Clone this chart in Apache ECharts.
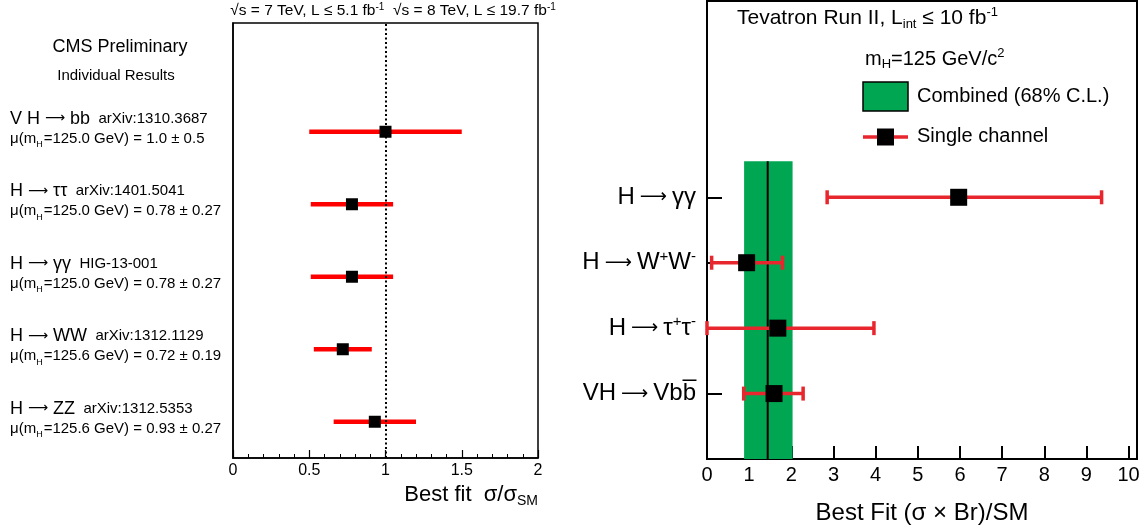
<!DOCTYPE html>
<html>
<head>
<meta charset="utf-8">
<script src="https://cdn.jsdelivr.net/npm/echarts@6/dist/echarts.min.js"></script>
<style>
html, body { margin: 0; padding: 0; background: #fff; }
#chart { width: 1145px; height: 531px; }
</style>
</head>
<body>
<div id="chart"></div>
<script>
const FONT = '"Liberation Sans", Arial, Helvetica, sans-serif';
const ARROW_FONT = '"DejaVu Sans", sans-serif';

// CMS individual results (top to bottom)
const cmsChannels = ['V H {arr|\u27f6} bb', 'H {arr|\u27f6} \u03c4\u03c4', 'H {arr|\u27f6} \u03b3\u03b3', 'H {arr|\u27f6} WW', 'H {arr|\u27f6} ZZ'];
const cmsRefs = ['arXiv:1310.3687', 'arXiv:1401.5041', 'HIG-13-001', 'arXiv:1312.1129', 'arXiv:1312.5353'];
const cmsMass = ['125.0', '125.0', '125.0', '125.6', '125.6'];
const cmsMu = [1.0, 0.78, 0.78, 0.72, 0.93];
const cmsErr = [0.5, 0.27, 0.27, 0.19, 0.27];
const cmsTicks = [0, 0.5, 1, 1.5, 2];

// Tevatron Run II single channels (top to bottom)
const tevLabels = [
  'H{arr|\u27f6}\u03b3\u03b3',
  'H{arr|\u27f6}W{sup|+}W{sup|-}',
  'H{arr|\u27f6}\u03c4{sup|+}\u03c4{sup|-}',
  'VH{arr|\u27f6}Vbb\u0305'
];
const tevMu = [5.97, 0.94, 1.68, 1.59];
const tevUp = [3.39, 0.85, 2.28, 0.69];
const tevDown = [3.12, 0.83, 1.68, 0.72];
const tevTicks = [0, 1, 2, 3, 4, 5, 6, 7, 8, 9, 10];

// Tevatron combination (68% C.L.)
const combMu = 1.44;
const combUp = 0.59;
const combDown = 0.56;

const fmt = v => (Number.isInteger(v) ? v.toFixed(1) : String(v));

// row positions on the value axes
const cmsRow = i => cmsChannels.length - 0.5 - i;
const tevRow = i => tevLabels.length - i;
const BAND_TOP = 4.55;

const cmsBars = cmsMu.map((m, i) => [m, cmsRow(i), m - cmsErr[i], m + cmsErr[i]]);
const cmsPoints = cmsMu.map((m, i) => [m, cmsRow(i)]);
const tevBars = tevMu.map((m, i) => [m, tevRow(i), m - tevDown[i], m + tevUp[i]]);
const tevPoints = tevMu.map((m, i) => [m, tevRow(i)]);

const chart = echarts.init(document.getElementById('chart'), null, { renderer: 'canvas' });

const option = {
  animation: false,
  backgroundColor: '#fff',
  textStyle: { fontFamily: FONT, color: '#000' },
  grid: [
    { left: 233, top: 23, width: 305, height: 435, show: true, borderColor: '#000', borderWidth: 1.5,
      backgroundColor: 'transparent', containLabel: false, outerBoundsMode: 'none' },
    { left: 707, top: 1, width: 430, height: 458, show: true, borderColor: '#000', borderWidth: 2,
      backgroundColor: 'transparent', containLabel: false, outerBoundsMode: 'none' }
  ],
  xAxis: [
    {
      gridIndex: 0, type: 'value', min: cmsTicks[0], max: cmsTicks[cmsTicks.length - 1], interval: 0.5,
      axisLine: { show: true, lineStyle: { color: '#000', width: 1.5 } },
      axisTick: { show: true, inside: true, length: 8, lineStyle: { color: '#000', width: 1.2 } },
      minorTick: { show: true, splitNumber: 5, length: 4, lineStyle: { color: '#000', width: 1 } },
      splitLine: { show: false },
      axisLabel: { fontSize: 16, color: '#000', fontFamily: FONT, margin: 5,
        formatter: v => String(v) },
      name: 'Best fit  \u03c3/\u03c3{sub|SM}',
      nameLocation: 'end', nameGap: 0,
      nameTextStyle: {
        fontSize: 22, color: '#000', fontFamily: FONT, align: 'right', verticalAlign: 'top',
        padding: [24, 0, 0, 0],
        rich: { sub: { fontSize: 14, fontFamily: FONT, color: '#000', padding: [12, 0, 0, 0] } }
      }
    },
    {
      gridIndex: 1, type: 'value', min: 0, max: 10.2,
      axisLine: { show: true, lineStyle: { color: '#000', width: 2 } },
      axisTick: { show: true, inside: true, length: 13, customValues: tevTicks, lineStyle: { color: '#000', width: 2 } },
      splitLine: { show: false },
      axisLabel: { fontSize: 20, color: '#000', fontFamily: FONT, margin: 6, customValues: tevTicks },
      name: 'Best Fit (\u03c3 \u00d7 Br)/SM',
      nameLocation: 'middle', nameGap: 42,
      nameTextStyle: { fontSize: 24, color: '#000', fontFamily: FONT }
    }
  ],
  yAxis: [
    {
      gridIndex: 0, type: 'value', min: 0, max: cmsChannels.length + 1,
      axisLine: { show: true, lineStyle: { color: '#000', width: 1.5 } },
      axisTick: { show: false },
      splitLine: { show: false },
      axisLabel: {
        customValues: cmsChannels.map((_, i) => cmsRow(i)),
        align: 'left', margin: 223, padding: [0, 0, 5, 0],
        formatter: v => {
          const i = Math.round(cmsChannels.length - 0.5 - v);
          if (i < 0 || i >= cmsChannels.length) return '';
          return '{ch|' + cmsChannels[i].replace(/\{arr\|(.)\}/, '}{arr|$1}{ch|') + '}{ref|  ' + cmsRefs[i] + '}\n' +
            '{mu|\u03bc(m}{sub|H}{mu|=' + cmsMass[i] + ' GeV) = ' + fmt(cmsMu[i]) + ' \u00b1 ' + fmt(cmsErr[i]) + '}';
        },
        rich: {
          ch: { fontSize: 18, fontFamily: FONT, color: '#000', lineHeight: 19 },
          arr: { fontSize: 14, fontFamily: ARROW_FONT, color: '#000', lineHeight: 19 },
          ref: { fontSize: 15, fontFamily: FONT, color: '#000', lineHeight: 19 },
          mu: { fontSize: 15, fontFamily: FONT, color: '#000', lineHeight: 17 },
          sub: { fontSize: 9, fontFamily: FONT, color: '#000', padding: [12, 1, 0, 0] }
        }
      }
    },
    {
      gridIndex: 1, type: 'value', min: 0, max: 7,
      axisLine: { show: true, lineStyle: { color: '#000', width: 2 } },
      axisTick: { show: true, inside: true, length: 15, customValues: tevLabels.map((_, i) => tevRow(i)),
        lineStyle: { color: '#000', width: 2 } },
      splitLine: { show: false },
      axisLabel: {
        customValues: tevLabels.map((_, i) => tevRow(i)),
        margin: 11, fontSize: 24, color: '#000', fontFamily: FONT,
        formatter: v => {
          const i = Math.round(tevLabels.length - v);
          return (i >= 0 && i < tevLabels.length) ? tevLabels[i] : '';
        },
        rich: {
          arr: { fontSize: 19, fontFamily: ARROW_FONT, color: '#000', padding: [0, 5, 0, 5] },
          sup: { fontSize: 15, fontFamily: FONT, color: '#000', padding: [0, 0, 12, 0] }
        }
      }
    }
  ],
  series: [
    {
      // CMS uncertainty bars
      type: 'custom', xAxisIndex: 0, yAxisIndex: 0, z: 2, silent: true,
      encode: { x: [0, 2, 3], y: 1 },
      data: cmsBars,
      renderItem: (params, api) => {
        const p0 = api.coord([api.value(2), api.value(1)]);
        const p1 = api.coord([api.value(3), api.value(1)]);
        return { type: 'line', shape: { x1: p0[0], y1: p0[1], x2: p1[0], y2: p1[1] },
          style: { stroke: '#ff0000', lineWidth: 4.5 } };
      }
    },
    {
      // CMS best-fit points and SM reference line
      type: 'scatter', xAxisIndex: 0, yAxisIndex: 0, z: 3, silent: true,
      data: cmsPoints, symbol: 'rect', symbolSize: 12,
      itemStyle: { color: '#000', opacity: 1 },
      markLine: {
        silent: true, symbol: ['none', 'none'], label: { show: false },
        lineStyle: { color: '#000', width: 2, type: [2, 2.5] },
        data: [{ xAxis: 1 }]
      }
    },
    {
      // Tevatron combined band with central value
      type: 'custom', xAxisIndex: 1, yAxisIndex: 1, z: 1, silent: true,
      encode: { x: [0, 1, 2] },
      data: [[combMu, combMu - combDown, combMu + combUp]],
      renderItem: (params, api) => {
        const lo = api.coord([api.value(1), 0]);
        const hi = api.coord([api.value(2), BAND_TOP]);
        const c0 = api.coord([api.value(0), 0]);
        const c1 = api.coord([api.value(0), BAND_TOP]);
        return {
          type: 'group',
          children: [
            { type: 'rect', shape: { x: lo[0], y: hi[1], width: hi[0] - lo[0], height: lo[1] - hi[1] },
              style: { fill: '#00a651' } },
            { type: 'line', shape: { x1: c0[0], y1: c0[1], x2: c1[0], y2: c1[1] },
              style: { stroke: '#000', lineWidth: 2 } }
          ]
        };
      }
    },
    {
      // Tevatron single-channel uncertainty bars with caps
      type: 'custom', xAxisIndex: 1, yAxisIndex: 1, z: 2, silent: true,
      encode: { x: [0, 2, 3], y: 1 },
      data: tevBars,
      renderItem: (params, api) => {
        const p0 = api.coord([api.value(2), api.value(1)]);
        const p1 = api.coord([api.value(3), api.value(1)]);
        const h = 7;
        const st = { stroke: '#e8262d', lineWidth: 3.5 };
        return {
          type: 'group',
          children: [
            { type: 'line', shape: { x1: p0[0], y1: p0[1], x2: p1[0], y2: p1[1] }, style: st },
            { type: 'line', shape: { x1: p0[0], y1: p0[1] - h, x2: p0[0], y2: p0[1] + h }, style: st },
            { type: 'line', shape: { x1: p1[0], y1: p1[1] - h, x2: p1[0], y2: p1[1] + h }, style: st }
          ]
        };
      }
    },
    {
      // Tevatron single-channel best fits
      type: 'scatter', xAxisIndex: 1, yAxisIndex: 1, z: 3, silent: true,
      data: tevPoints, symbol: 'rect', symbolSize: 17,
      itemStyle: { color: '#000', opacity: 1 }
    }
  ],
  graphic: [
    { type: 'text', x: 393, y: 11, silent: true,
      style: { text: '\u221as = 7 TeV, L \u2264 5.1 fb{sup|-1}  \u221as = 8 TeV, L \u2264 19.7 fb{sup|-1}',
        font: '15.5px ' + FONT, fill: '#000', align: 'center', verticalAlign: 'middle',
        textAlign: 'center', textVerticalAlign: 'middle',
        rich: { sup: { fontSize: 10, fontFamily: FONT, fill: '#000', padding: [0, 0, 8, 0] } } } },
    { type: 'text', x: 120, y: 47, silent: true,
      style: { text: 'CMS Preliminary', font: '18px ' + FONT, fill: '#000',
        align: 'center', verticalAlign: 'middle', textAlign: 'center', textVerticalAlign: 'middle' } },
    { type: 'text', x: 116, y: 76, silent: true,
      style: { text: 'Individual Results', font: '15px ' + FONT, fill: '#000',
        align: 'center', verticalAlign: 'middle', textAlign: 'center', textVerticalAlign: 'middle' } },
    { type: 'text', x: 737, y: 18, silent: true,
      style: { text: 'Tevatron Run II, L{sub|int} \u2264 10 fb{sup|-1}', font: '21px ' + FONT, fill: '#000',
        align: 'left', verticalAlign: 'middle', textAlign: 'left', textVerticalAlign: 'middle',
        rich: {
          sub: { fontSize: 13, fontFamily: FONT, fill: '#000', padding: [12, 0, 0, 0] },
          sup: { fontSize: 13, fontFamily: FONT, fill: '#000', padding: [0, 0, 12, 0] }
        } } },
    { type: 'text', x: 865, y: 59, silent: true,
      style: { text: 'm{sub|H}=125 GeV/c{sup|2}', font: '20px ' + FONT, fill: '#000',
        align: 'left', verticalAlign: 'middle', textAlign: 'left', textVerticalAlign: 'middle',
        rich: {
          sub: { fontSize: 13, fontFamily: FONT, fill: '#000', padding: [11, 0, 0, 0] },
          sup: { fontSize: 13, fontFamily: FONT, fill: '#000', padding: [0, 0, 11, 0] }
        } } },
    { type: 'rect', silent: true, shape: { x: 863, y: 82, width: 45, height: 29 },
      style: { fill: '#00a651', stroke: '#000', lineWidth: 1.5 } },
    { type: 'text', x: 917, y: 96, silent: true,
      style: { text: 'Combined (68% C.L.)', font: '20px ' + FONT, fill: '#000',
        align: 'left', verticalAlign: 'middle', textAlign: 'left', textVerticalAlign: 'middle' } },
    { type: 'line', silent: true, shape: { x1: 863, y1: 137, x2: 908, y2: 137 },
      style: { stroke: '#e8262d', lineWidth: 3.5 } },
    { type: 'rect', silent: true, shape: { x: 877, y: 128.5, width: 17, height: 17 },
      style: { fill: '#000' } },
    { type: 'text', x: 917, y: 136, silent: true,
      style: { text: 'Single channel', font: '20px ' + FONT, fill: '#000',
        align: 'left', verticalAlign: 'middle', textAlign: 'left', textVerticalAlign: 'middle' } }
  ]
};

chart.setOption(option);
</script>
</body>
</html>
